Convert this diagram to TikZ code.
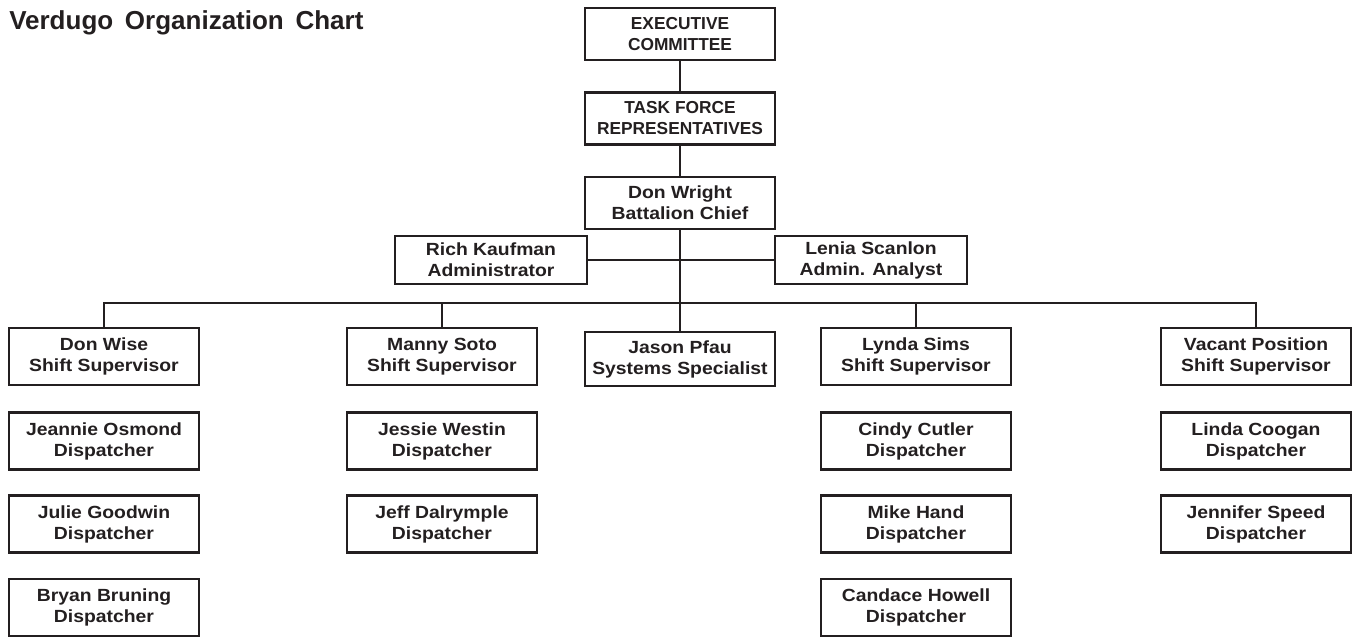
\documentclass[tikz,border=0pt]{standalone}
\usepackage{fontspec}
\setmainfont{Liberation Sans}
\newfontfamily\namefont{Liberation Sans}[FakeStretch=1.1]
\definecolor{ink}{HTML}{231F20}
\begin{document}
\begin{tikzpicture}[x=0.75pt,y=-0.75pt,
  box/.style={draw=ink, line width=1.6pt, text=ink, align=center, inner sep=0pt,
    minimum width=142.5pt, minimum height=42.75pt,
    font=\namefont\fontsize{13.2}{15.75}\selectfont\bfseries},
  topbox/.style={box, minimum height=39pt},
  capbox/.style={topbox, font=\fontsize{13}{15.75}\selectfont\bfseries},
  admbox/.style={box, minimum width=144pt, minimum height=36pt},
  link/.style={draw=ink, line width=1.5pt}]
\useasboundingbox (0,0) rectangle (1353,637);
\node[anchor=base west, text=ink, inner sep=0pt, font=\fontsize{19.5}{22}\selectfont\bfseries] (title) at (9,29) {Verdugo\hspace{0.45em}Organization\hspace{0.45em}Chart};
% top chain
\node[capbox] (exec) at (680,34) {EXECUTIVE\\COMMITTEE};
\node[capbox] (task) at (680,118.5) {TASK FORCE\\REPRESENTATIVES};
\node[topbox] (dw) at (680,203) {Don Wright\\Battalion Chief};
\node[admbox] (rich) at (491,260) {Rich Kaufman\\Administrator};
\node[admbox] (lenia) at (871,260) {Lenia Scanlon\\Admin. Analyst};
% supervisors
\node[box] (dwise) at (104,356.5) {Don Wise\\Shift Supervisor};
\node[box] (manny) at (442,356.5) {Manny Soto\\Shift Supervisor};
\node[box, minimum height=40.5pt] (jason) at (680,359) {Jason Pfau\\Systems Specialist};
\node[box] (lynda) at (916,356.5) {Lynda Sims\\Shift Supervisor};
\node[box] (vacant) at (1256,356.5) {Vacant Position\\Shift Supervisor};
% dispatchers
\node[box] (jeannie) at (104,441) {Jeannie Osmond\\Dispatcher};
\node[box] (julie) at (104,524) {Julie Goodwin\\Dispatcher};
\node[box] (bryan) at (104,607.5) {Bryan Bruning\\Dispatcher};
\node[box] (jessie) at (442,441) {Jessie Westin\\Dispatcher};
\node[box] (jeff) at (442,524) {Jeff Dalrymple\\Dispatcher};
\node[box] (cindy) at (916,441) {Cindy Cutler\\Dispatcher};
\node[box] (mike) at (916,524) {Mike Hand\\Dispatcher};
\node[box] (candace) at (916,607.5) {Candace Howell\\Dispatcher};
\node[box] (linda) at (1256,441) {Linda Coogan\\Dispatcher};
\node[box] (jennifer) at (1256,524) {Jennifer Speed\\Dispatcher};
% connectors
\coordinate (bus) at (680,303);
\path[link] (exec.south) -- (task.north);
\path[link] (task.south) -- (dw.north);
\path[link] (dw.south) -- (bus) -- (jason.north);
\path[link] (rich.east) -- (lenia.west);
\path[link] (dwise.north) |- (bus) -| (vacant.north);
\path[link] (manny.north) |- (bus);
\path[link] (lynda.north) |- (bus);
\end{tikzpicture}
\end{document}
